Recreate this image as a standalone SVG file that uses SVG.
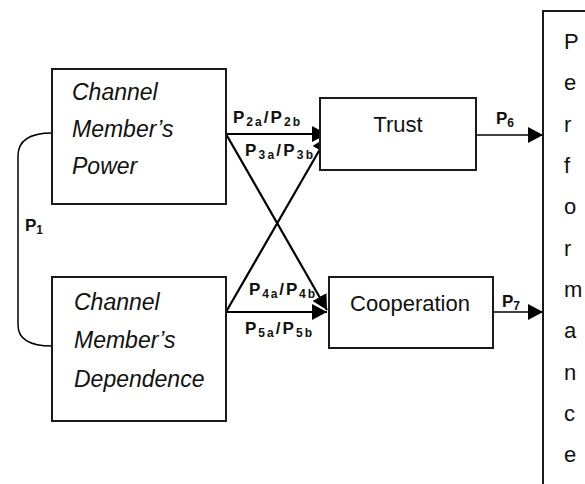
<svg xmlns="http://www.w3.org/2000/svg" width="585" height="484" viewBox="0 0 585 484">
  <style>
    .box { fill: #ffffff; stroke: #1a1a1a; stroke-width: 2; }
    .it { font-family: "Liberation Sans", Arial, sans-serif; font-style: italic; font-size: 23px; fill: #111; }
    .up { font-family: "Liberation Sans", Arial, sans-serif; font-size: 22px; fill: #111; }
    .lab { font-family: "Liberation Sans", Arial, sans-serif; font-weight: bold; font-size: 17px; fill: #111; }
    .sub { font-size: 12px; }
    .link { fill: none; stroke: #000; stroke-width: 2.2; }
    .thin { fill: none; stroke: #000; stroke-width: 1.5; }
  </style>
  <defs>
    <marker id="head" markerUnits="userSpaceOnUse" markerWidth="16" markerHeight="16" refX="15" refY="8" orient="auto">
      <path d="M0,0 L15,8 L0,16 Z" fill="#000"/>
    </marker>
  </defs>
  <rect x="0" y="0" width="585" height="484" fill="#ffffff"/>

  <!-- connectors -->
  <g id="connectors">
    <path class="thin" d="M52,133 C30,133 18,140 18,156 L18,325 C18,340 30,346 52,346"/>
    <line class="link" x1="226" y1="134" x2="327" y2="134" marker-end="url(#head)"/>
    <line class="link" x1="226" y1="134" x2="327" y2="310" marker-end="url(#head)"/>
    <line class="link" x1="226" y1="312" x2="327" y2="137" marker-end="url(#head)"/>
    <line class="link" x1="226" y1="312" x2="327" y2="312" marker-end="url(#head)"/>
    <line class="thin" x1="476" y1="135" x2="543" y2="135" marker-end="url(#head)"/>
    <line class="thin" x1="493" y1="312" x2="543" y2="312" marker-end="url(#head)"/>
    <text class="lab" x="25" y="231">P<tspan class="sub" dy="3">1</tspan></text>
    <text class="lab" x="233" y="123" textLength="67" lengthAdjust="spacing">P<tspan class="sub" dy="3">2a</tspan><tspan dy="-3">/P</tspan><tspan class="sub" dy="3">2b</tspan></text>
    <text class="lab" x="245" y="156" textLength="68" lengthAdjust="spacing">P<tspan class="sub" dy="3">3a</tspan><tspan dy="-3">/P</tspan><tspan class="sub" dy="3">3b</tspan></text>
    <text class="lab" x="249" y="295" textLength="66" lengthAdjust="spacing">P<tspan class="sub" dy="3">4a</tspan><tspan dy="-3">/P</tspan><tspan class="sub" dy="3">4b</tspan></text>
    <text class="lab" x="245" y="334" textLength="67" lengthAdjust="spacing">P<tspan class="sub" dy="3">5a</tspan><tspan dy="-3">/P</tspan><tspan class="sub" dy="3">5b</tspan></text>
    <text class="lab" x="496" y="124">P<tspan class="sub" dy="3">6</tspan></text>
    <text class="lab" x="502" y="307">P<tspan class="sub" dy="3">7</tspan></text>
  </g>

  <g id="power">
    <rect class="box" x="52" y="69" width="174" height="135"/>
    <text class="it" x="72" y="100">Channel</text>
    <text class="it" x="72" y="137">Member’s</text>
    <text class="it" x="72" y="174">Power</text>
  </g>

  <g id="dependence">
    <rect class="box" x="52" y="277" width="174" height="144"/>
    <text class="it" x="74" y="310">Channel</text>
    <text class="it" x="74" y="348">Member’s</text>
    <text class="it" x="74" y="387">Dependence</text>
  </g>

  <g id="trust">
    <rect class="box" x="320" y="98" width="156" height="72"/>
    <text class="up" x="398" y="132" text-anchor="middle">Trust</text>
  </g>

  <g id="cooperation">
    <rect class="box" x="329" y="277" width="164" height="71"/>
    <text class="up" x="410" y="311" text-anchor="middle">Cooperation</text>
  </g>

  <g id="performance">
    <rect class="box" x="543" y="11" width="60" height="490"/>
    <text class="up" x="564" y="49">P</text>
    <text class="up" x="564" y="90">e</text>
    <text class="up" x="564" y="132">r</text>
    <text class="up" x="564" y="173">f</text>
    <text class="up" x="564" y="214">o</text>
    <text class="up" x="564" y="256">r</text>
    <text class="up" x="564" y="297">m</text>
    <text class="up" x="564" y="338">a</text>
    <text class="up" x="564" y="380">n</text>
    <text class="up" x="564" y="421">c</text>
    <text class="up" x="564" y="462">e</text>
  </g>
</svg>
